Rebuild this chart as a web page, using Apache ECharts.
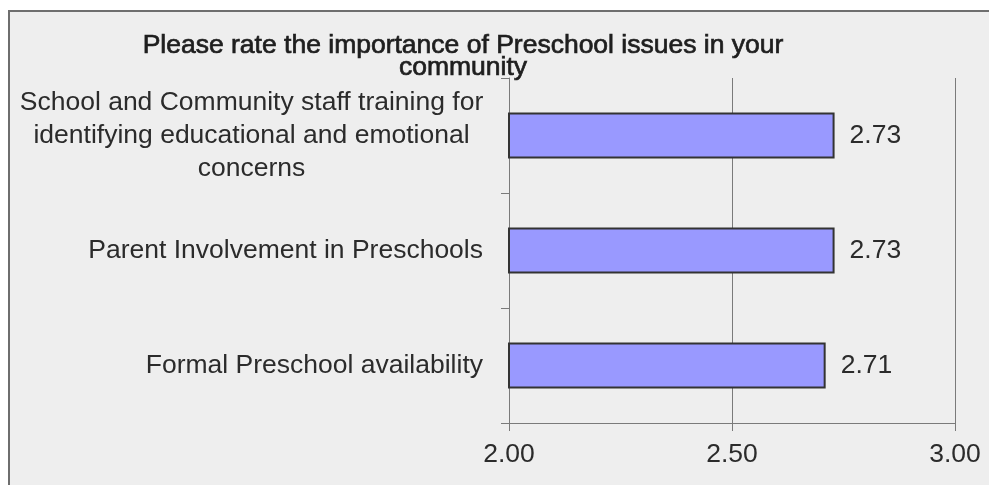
<!DOCTYPE html>
<html>
<head>
<meta charset="utf-8">
<script src="https://cdn.jsdelivr.net/npm/echarts@6/dist/echarts.min.js"></script>
<style>
  html, body { margin: 0; padding: 0; background: #ffffff; }
  #wrap { position: relative; width: 989px; height: 485px; overflow: hidden; }
  #panel { position: absolute; left: 8px; top: 10px; width: 1100px; height: 600px;
           background: #eeeeee; border-left: 2px solid #6e6e6e; border-top: 2px solid #6e6e6e; }
  #chart { position: absolute; left: 0; top: 0; width: 989px; height: 485px; }
</style>
</head>
<body>
<div id="wrap">
  <div id="panel"></div>
  <div id="chart"></div>
</div>
<script>
// Preschool issue ratings (mean importance score)
const chartTitle = 'Please rate the importance of Preschool issues in your\ncommunity';
const categories = [
  'School and Community staff training for\nidentifying educational and emotional\nconcerns',
  'Parent Involvement in Preschools',
  'Formal Preschool availability'
];
const ratings = [2.73, 2.73, 2.71];
const axisMin = 2.0;
const axisMax = 3.0;
const axisStep = 0.5;

const FONT = '"Liberation Sans", Arial, sans-serif';
const TEXT = '#2b2b2b';
const SIZE = 26.5;

const chart = echarts.init(document.getElementById('chart'), null, { renderer: 'canvas' });
chart.setOption({
  backgroundColor: 'transparent',
  animation: false,
  title: {
    text: chartTitle,
    left: 463,
    top: 35,
    padding: 0,
    textAlign: 'center',
    textStyle: {
      fontFamily: FONT, fontSize: SIZE, fontWeight: 'normal',
      color: '#1e1e1e', lineHeight: 22,
      textBorderColor: '#1e1e1e', textBorderWidth: 0.7
    }
  },
  grid: { left: 509, right: 34, top: 78, bottom: 62, containLabel: false },
  xAxis: {
    type: 'value',
    min: axisMin, max: axisMax, interval: axisStep,
    axisLine: { show: true, lineStyle: { color: '#7a7a7a', width: 1 } },
    axisTick: { show: true, length: 8, lineStyle: { color: '#7a7a7a' } },
    splitLine: { show: true, lineStyle: { color: '#7a7a7a', width: 1 } },
    axisLabel: {
      margin: 18,
      fontFamily: FONT, fontSize: SIZE, color: TEXT,
      formatter: v => v.toFixed(2)
    }
  },
  yAxis: {
    type: 'category',
    inverse: true,
    data: categories,
    axisLine: { show: true, lineStyle: { color: '#7a7a7a', width: 1 } },
    axisTick: { show: true, length: 8, lineStyle: { color: '#7a7a7a' } },
    splitLine: { show: false },
    axisLabel: {
      margin: 26,
      fontFamily: FONT, fontSize: SIZE, color: TEXT,
      formatter: v => v.indexOf('\n') >= 0 ? '{wrap|' + v + '}' : v,
      rich: {
        wrap: { width: 463, align: 'center', fontFamily: FONT, fontSize: SIZE, color: TEXT, lineHeight: 33 }
      }
    }
  },
  series: [{
    type: 'bar',
    data: ratings,
    barWidth: 46,
    itemStyle: { color: '#9999ff', borderColor: '#333333', borderWidth: 2 },
    label: {
      show: true, position: 'right', distance: 15,
      fontFamily: FONT, fontSize: SIZE, color: TEXT,
      formatter: p => p.value.toFixed(2)
    }
  }]
});
</script>
</body>
</html>
